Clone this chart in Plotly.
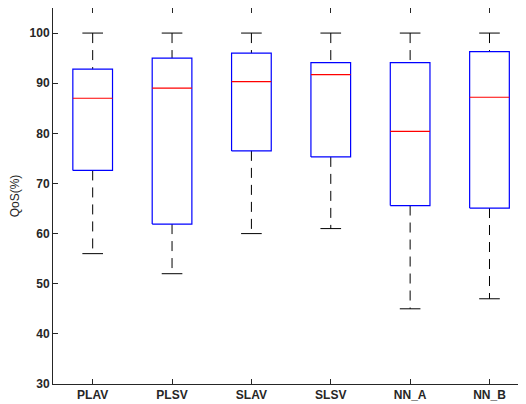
import plotly.graph_objects as go

categories = ["PLAV", "PLSV", "SLAV", "SLSV", "NN_A", "NN_B"]
upper_whisker = [100, 100, 100, 100, 100, 100]
q3 = [92.8, 95.0, 96.0, 94.1, 94.1, 96.3]
median = [87.0, 89.0, 90.3, 91.7, 80.4, 87.2]
q1 = [72.6, 61.9, 76.5, 75.3, 65.6, 65.1]
lower_whisker = [56, 52, 60, 61, 45, 47]
y_ticks = [30, 40, 50, 60, 70, 80, 90, 100]

box_half = 0.25
cap_half = 0.13

xs = list(range(1, len(categories) + 1))

# whiskers (dashed)
wx, wy = [], []
for x, lo, a, b, hi in zip(xs, lower_whisker, q1, q3, upper_whisker):
    wx += [x, x, None, x, x, None]
    wy += [hi, b, None, a, lo, None]
# caps
cx, cy = [], []
for x, lo, hi in zip(xs, lower_whisker, upper_whisker):
    cx += [x - cap_half, x + cap_half, None, x - cap_half, x + cap_half, None]
    cy += [hi, hi, None, lo, lo, None]
# boxes
bx, by = [], []
for x, a, b in zip(xs, q1, q3):
    bx += [x - box_half, x + box_half, x + box_half, x - box_half, x - box_half, None]
    by += [a, a, b, b, a, None]
# medians
mx, my = [], []
for x, m in zip(xs, median):
    mx += [x - box_half, x + box_half, None]
    my += [m, m, None]

fig = go.Figure()
fig.add_trace(go.Scatter(x=wx, y=wy, mode="lines",
                         line=dict(color="black", width=1, dash="10px,7px"),
                         hoverinfo="skip", showlegend=False))
fig.add_trace(go.Scatter(x=cx, y=cy, mode="lines",
                         line=dict(color="black", width=1),
                         hoverinfo="skip", showlegend=False))
fig.add_trace(go.Scatter(x=bx, y=by, mode="lines",
                         line=dict(color="#0000ff", width=1.2),
                         hoverinfo="skip", showlegend=False))
fig.add_trace(go.Scatter(x=mx, y=my, mode="lines",
                         line=dict(color="#ff0000", width=1.2),
                         hoverinfo="skip", showlegend=False))

axis_color = "#262626"
# page body has an 8px default margin, so the figure is sized to fill the rest
fig.update_layout(
    width=518, height=396,
    margin=dict(l=45, r=0, t=0, b=20, autoexpand=False),
    paper_bgcolor="white", plot_bgcolor="white",
    font=dict(family="Liberation Sans, Arial, sans-serif", color=axis_color, size=12),
    showlegend=False,
)
fig.update_xaxes(
    range=[0.5, 6.46],
    tickvals=xs, ticktext=["<b>%s</b>" % c for c in categories],
    ticks="inside", ticklen=5, tickcolor=axis_color, tickwidth=1,
    showline=True, linecolor=axis_color, linewidth=1, mirror="ticks",
    showgrid=False, zeroline=False, tickfont=dict(size=12),
)
fig.update_yaxes(
    range=[30, 105],
    tickvals=y_ticks, ticktext=["<b>%d</b>" % t for t in y_ticks],
    ticks="inside", ticklen=5, tickcolor=axis_color, tickwidth=1,
    showline=True, linecolor=axis_color, linewidth=1, mirror="ticks",
    showgrid=False, zeroline=False, tickfont=dict(size=12),
    title=dict(text="QoS(%)", font=dict(size=12), standoff=8),
)

fig.write_html("out.html")
